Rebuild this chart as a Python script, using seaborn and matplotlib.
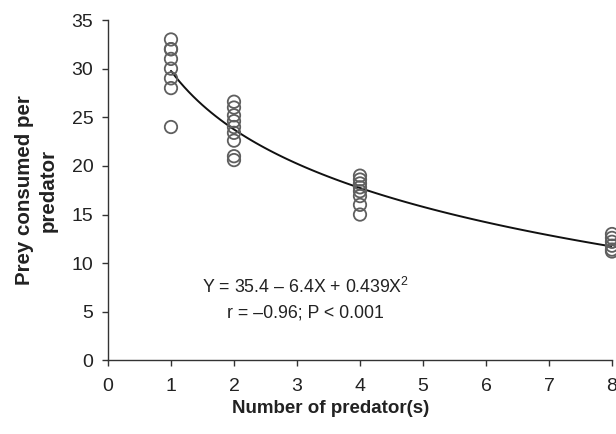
import numpy as np
import pandas as pd
import matplotlib
matplotlib.use("Agg")
import matplotlib.pyplot as plt
import seaborn as sns

# Prey consumed per predator, by number of predators in the arena
predators = [1, 2, 4, 8]
prey_1 = [33, 32, 32, 31, 30, 29, 28, 24]
prey_2 = [26.6, 26.0, 25.2, 24.6, 24.0, 23.4, 22.6, 21.0, 20.6]
prey_4 = [19.0, 18.6, 18.2, 17.8, 17.4, 16.9, 16.0, 15.0]
prey_8 = [13.0, 12.6, 12.2, 11.8, 11.4, 11.2]

x_ticks = [0, 1, 2, 3, 4, 5, 6, 7, 8]
y_ticks = [0, 5, 10, 15, 20, 25, 30, 35]

eq_text = "Y = 35.4 \u2013 6.4X + 0.439X$^{2}$"
stat_text = "r = \u20130.96; P < 0.001"

groups = [prey_1, prey_2, prey_4, prey_8]
df = pd.DataFrame({
    "predators": np.concatenate([[n] * len(g) for n, g in zip(predators, groups)]),
    "prey": np.concatenate(groups),
})

sns.set_theme(style="ticks")
plt.rcParams["font.family"] = ["Liberation Sans", "DejaVu Sans"]
plt.rcParams["mathtext.fontset"] = "custom"
plt.rcParams["mathtext.rm"] = "Liberation Sans"
plt.rcParams["mathtext.default"] = "regular"

fig = plt.figure(figsize=(6.16, 4.34), dpi=100)
ax = fig.add_axes([0.1753, 0.1694, 0.8182, 0.7845])

# fitted trend through all observations
sns.regplot(data=df, x="predators", y="prey", logx=True, ci=None,
            scatter=False, color="#111111", line_kws={"lw": 1.4}, ax=ax)

sns.scatterplot(data=df, x="predators", y="prey", s=80, marker="o",
                facecolor="none", edgecolor="#5f5f5f", linewidth=1.3,
                clip_on=False, ax=ax, zorder=3)

ax.set_xlim(0, 8)
ax.set_ylim(0, 35)
ax.set_xticks(x_ticks)
ax.set_yticks(y_ticks)
ax.tick_params(axis="both", labelsize=14, length=4.5, width=1, color="#333333",
               labelcolor="#222222")
ax.tick_params(axis="x", pad=8)
ax.tick_params(axis="y", pad=6)

for side in ["top", "right"]:
    ax.spines[side].set_visible(False)
for side in ["left", "bottom"]:
    ax.spines[side].set_color("#333333")
    ax.spines[side].set_linewidth(1)

ax.set_xlabel("Number of predator(s)", fontsize=13.5, fontweight="bold", color="#222222")
ax.set_ylabel("Prey consumed per\npredator", fontsize=14.8, fontweight="bold",
              color="#222222", linespacing=1.31)
ax.xaxis.set_label_coords(0.442, -0.115)
ax.yaxis.set_label_coords(-0.099, 0.5)

ax.text(3.13, 7.6, eq_text, ha="center", va="center", fontsize=12.8, color="#222222")
ax.text(3.13, 4.9, stat_text, ha="center", va="center", fontsize=12.8, color="#222222")

fig.savefig("out.png", dpi=100)
